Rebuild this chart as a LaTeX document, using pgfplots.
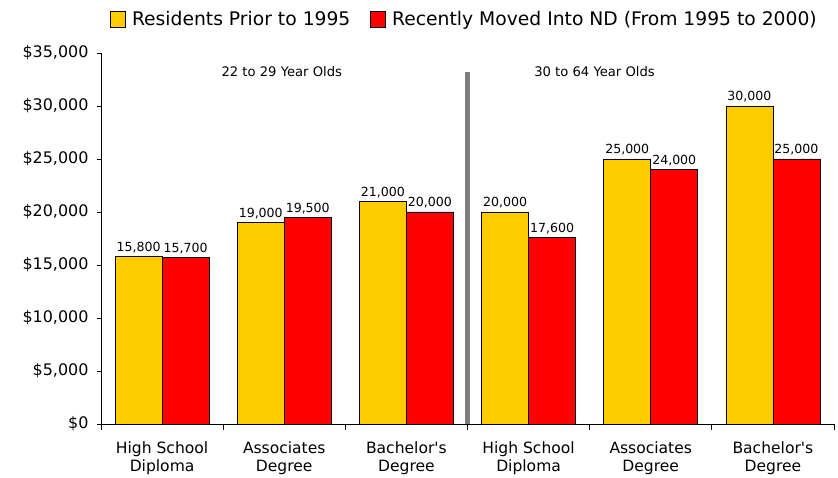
\documentclass[border=0pt]{standalone}
\usepackage{pgfplots}
\pgfplotsset{compat=1.18}
\usepackage{fontspec}
\setmainfont{DejaVu Sans}[Ligatures=TeXReset]
\definecolor{resyellow}{HTML}{FFCC00}
\definecolor{movred}{HTML}{FF0000}
\definecolor{sepgray}{HTML}{808080}
\pgfplotsset{sqlegend/.style={legend image code/.code={\draw[##1, draw=black, line width=0.8bp] (0bp,-8bp) rectangle (15bp,8bp); \path (21bp,0bp);}}}
\begin{document}
\begin{tikzpicture}
\useasboundingbox (0,0) rectangle (838bp,478bp);
\begin{axis}[
  at={(101bp,54bp)}, anchor=south west,
  scale only axis, width=733bp, height=371bp,
  ybar=0pt, bar width=47bp,
  xmin=-0.5, xmax=5.5, ymin=0, ymax=35000,
  axis x line*=bottom, axis y line*=left,
  axis line style={black, line width=0.8bp},
  xtick={0,...,5},
  xticklabels={High School\\Diploma, Associates\\Degree, Bachelor's\\Degree, High School\\Diploma, Associates\\Degree, Bachelor's\\Degree},
  every major x tick/.append style={draw=none},
  minor xtick={-0.5,0.5,...,5.5},
  every minor x tick/.append style={black, line width=0.8bp},
  minor tick length=6bp,
  major tick length=4bp,
  tick align=outside,
  ytick={0,5000,...,35000},
  scaled y ticks=false,
  every major y tick/.append style={black, line width=0.8bp},
  yticklabel={\$\pgfmathprintnumber{\tick}},
  /pgf/number format/.cd, 1000 sep={,}, fixed, assume math mode=true, /pgfplots/.cd,
  xticklabel style={align=center, font=\fontsize{15.6}{18.5}\selectfont, yshift=-10bp},
  yticklabel style={font=\fontsize{16}{19}\selectfont, xshift=-5bp},
  nodes near coords,
  every node near coord/.append style={font=\fontsize{12.6}{15}\selectfont, black},
  legend columns=2,
  legend style={at={(0.0123,1.115)}, anchor=north west, draw=none, fill=none, inner sep=0pt,
    nodes={inner sep=0pt}, font=\fontsize{18.8}{22}\selectfont,
    /tikz/every even column/.append style={column sep=20bp}},
  clip=false,
]
\addplot[fill=resyellow, draw=black, line width=0.8bp, sqlegend]
  coordinates {(0,15800) (1,19000) (2,21000) (3,20000) (4,25000) (5,30000)};
\addlegendentry{Residents Prior to 1995}
\addplot[fill=movred, draw=black, line width=0.8bp, sqlegend]
  coordinates {(0,15700) (1,19500) (2,20000) (3,17600) (4,24000) (5,25000)};
\addlegendentry{Recently Moved Into ND (From 1995 to 2000)}
\draw[sepgray, line width=5bp] (axis cs:2.5,0) -- (axis cs:2.5,33200);
\node[font=\fontsize{13.2}{16}\selectfont] at (axis cs:0.98,33200) {22 to 29 Year Olds};
\node[font=\fontsize{13.2}{16}\selectfont] at (axis cs:3.54,33200) {30 to 64 Year Olds};
\end{axis}
\end{tikzpicture}
\end{document}
